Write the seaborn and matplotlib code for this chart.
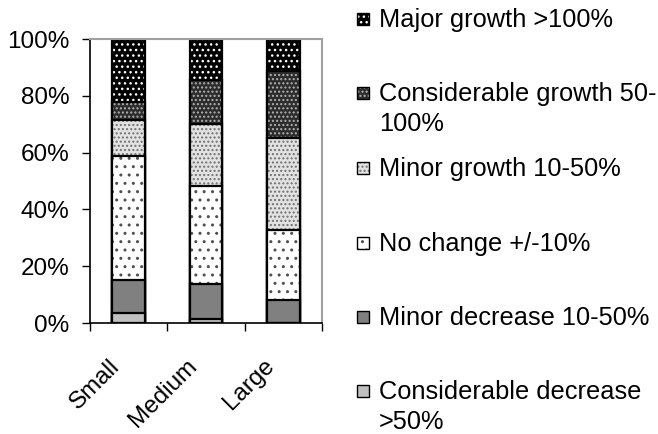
import numpy as np
import matplotlib
matplotlib.use("Agg")
import matplotlib.pyplot as plt
import matplotlib.transforms as mtransforms
from matplotlib.patches import Rectangle
import seaborn as sns

# Share of firms (%) by change category, per firm size
firm_sizes = ["Small", "Medium", "Large"]
considerable_decrease = [3.4, 1.3, 0.0]
minor_decrease = [11.7, 12.4, 8.1]
no_change = [43.7, 34.7, 24.6]
minor_growth = [12.7, 21.6, 32.3]
considerable_growth = [6.4, 15.6, 23.7]
major_growth = [22.1, 14.4, 11.3]

# Legend text, top to bottom (wrapped lines kept as separate strings)
legend_lines = [
    ["Major growth >100%"],
    ["Considerable growth 50-", "100%"],
    ["Minor growth 10-50%"],
    ["No change +/-10%"],
    ["Minor decrease 10-50%"],
    ["Considerable decrease", ">50%"],
]

# Stack order bottom -> top, with fill colour, hatch and hatch colour
layers = [considerable_decrease, minor_decrease, no_change,
          minor_growth, considerable_growth, major_growth]
styles = [
    dict(face="#c0c0c0", hatch=None, hc="#c0c0c0"),
    dict(face="#808080", hatch=None, hc="#808080"),
    dict(face="#ffffff", hatch="..", hc="#505050"),
    dict(face="#e2e2e2", hatch="....", hc="#727272"),
    dict(face="#2c2c2c", hatch="....", hc="#b0b0b0"),
    dict(face="#000000", hatch="...", hc="#ffffff"),
]

sns.set_style("white")
plt.rcParams["font.family"] = ["Liberation Sans", "DejaVu Sans"]
plt.rcParams["hatch.linewidth"] = 1.0
plt.rcParams["text.color"] = "black"
plt.rcParams["xtick.color"] = "black"
plt.rcParams["ytick.color"] = "black"
plt.rcParams["xtick.labelcolor"] = "black"
plt.rcParams["ytick.labelcolor"] = "black"

W, H = 658, 434
fig = plt.figure(figsize=(W / 100, H / 100), dpi=100)
ax = fig.add_axes([90 / W, 1 - 323 / H, (322 - 90) / W, (323 - 39) / H])

cum = np.cumsum(np.array(layers, dtype=float), axis=0)
for k in reversed(range(len(layers))):
    st = styles[k]
    sns.barplot(x=firm_sizes, y=cum[k], color=st["face"], saturation=1,
                width=0.42, hatch=st["hatch"], edgecolor=st["hc"],
                linewidth=0, errorbar=None, ax=ax)
    sns.barplot(x=firm_sizes, y=cum[k], color="black", fill=False,
                width=0.42, linewidth=1.6, errorbar=None, ax=ax)

ax.set_xlim(-0.5, 2.5)
ax.set_ylim(0, 100)
ax.set_xlabel("")
ax.set_ylabel("")

ax.set_yticks(range(0, 101, 20))
ax.set_yticklabels([f"{v}%" for v in range(0, 101, 20)])
ax.tick_params(axis="y", direction="out", length=6, width=1, pad=9,
               labelsize=17.5, left=True, color="black", labelcolor="black")

ax.set_xticks(range(len(firm_sizes)))
ax.set_xticklabels(firm_sizes)
ax.set_xticks([-0.5, 0.5, 1.5, 2.5], minor=True)
ax.tick_params(axis="x", which="major", length=0, pad=23, labelsize=17.5,
               labelcolor="black")
ax.tick_params(axis="x", which="minor", direction="out", length=6,
               width=1, bottom=True, color="black")
shift = mtransforms.ScaledTranslation(-20 / 100, 0, fig.dpi_scale_trans)
for lbl in ax.get_xticklabels():
    lbl.set_rotation(45)
    lbl.set_ha("right")
    lbl.set_va("top")
    lbl.set_rotation_mode("anchor")
    lbl.set_transform(lbl.get_transform() + shift)

for side in ["left", "bottom"]:
    ax.spines[side].set_color("black")
    ax.spines[side].set_linewidth(1.2)
for side in ["top", "right"]:
    ax.spines[side].set_color("#a0a0a0")
    ax.spines[side].set_linewidth(1.5)
ax.grid(False)

# Legend: swatch + text per series, listed from the top of the stack down
baselines = [27, 101, 176, 251, 325, 399]
line_pitch = 30
box = 12
for i, k in enumerate(reversed(range(len(layers)))):
    st = styles[k]
    yb = baselines[i]
    y0 = 1 - (yb - 2) / H
    fig.add_artist(Rectangle((357 / W, y0), box / W, box / H,
                             transform=fig.transFigure, facecolor=st["face"],
                             hatch=st["hatch"], edgecolor=st["hc"], linewidth=0))
    fig.add_artist(Rectangle((357 / W, y0), box / W, box / H,
                             transform=fig.transFigure, facecolor="none",
                             edgecolor="black", linewidth=1.0))
    for j, line in enumerate(legend_lines[i]):
        fig.text(379 / W, 1 - (yb + j * line_pitch) / H, line,
                 fontsize=18.3, ha="left", va="baseline", color="black")

fig.savefig("out.png", dpi=100)
